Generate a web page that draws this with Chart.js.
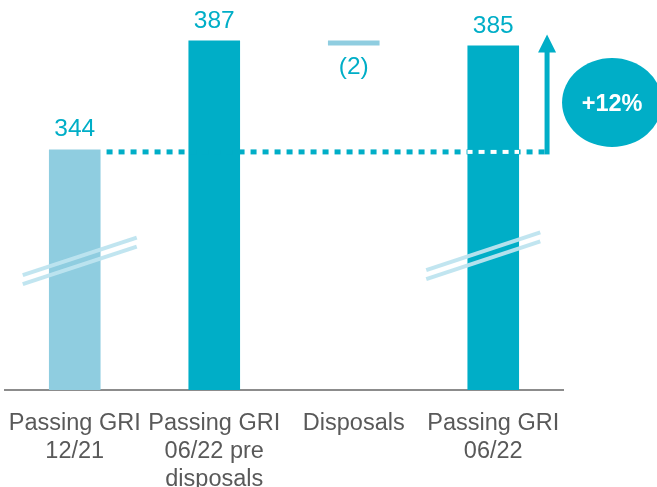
<!DOCTYPE html>
<html>
<head>
<meta charset="utf-8">
<script src="https://cdn.jsdelivr.net/npm/chart.js@4.4.0/dist/chart.umd.min.js"></script>
<style>
html,body{margin:0;padding:0;background:#fff;}
#wrap{width:657px;height:487px;position:relative;}
</style>
</head>
<body>
<div id="wrap"><canvas id="c" width="657" height="487"></canvas></div>
<script>
// ---- data ----
const categories = [["Passing GRI","12/21"],["Passing GRI","06/22 pre","disposals"],["Disposals"],["Passing GRI","06/22"]];
const values = [344, 387, -2, 385];
const valueLabels = ["344", "387", "(2)", "385"];
const changeLabel = "+12%";
const axisMin = 249;   // broken axis start
const axisMax = 403;

const LIGHT = "#8FCDE0";
const DARK = "#00AEC7";
const barColors = [LIGHT, DARK, LIGHT, DARK];

// waterfall data: disposals floats from previous total
const barData = values.map((v, i) => i === 2 ? [values[1] + v, values[1]] : v);

const overlay = {
  id: "overlay",
  afterDatasetsDraw(chart) {
    const ctx = chart.ctx;
    const meta = chart.getDatasetMeta(0);
    const y = chart.scales.y;
    const bars = meta.data;
    ctx.save();

    // break marks
    function breakMark(bar, dx, dy) {
      const cx = bar.x + dx, cy = dy;
      ctx.strokeStyle = "rgba(190,228,239,0.95)";
      ctx.lineWidth = 4;
      ctx.lineCap = "butt";
      const hw = 57, slope = 0.33;
      [-4.5, 4.5].forEach(off => {
        ctx.beginPath();
        ctx.moveTo(cx - hw, cy + off + hw * slope);
        ctx.lineTo(cx + hw, cy + off - hw * slope);
        ctx.stroke();
      });
    }
    const yb1 = y.getPixelForValue(300);
    const yb4 = y.getPixelForValue(302);
    breakMark(bars[0], 5, yb1);
    breakMark(bars[3], -10, yb4);

    // dotted reference line at the first value
    const refY = y.getPixelForValue(values[0]) + 2.5;
    const x0 = bars[0].x + bars[0].width / 2 + 6;
    const arrowX = bars[3].x + bars[3].width / 2 + 28;
    ctx.strokeStyle = DARK;
    ctx.lineWidth = 5;
    ctx.setLineDash([6, 6]);
    ctx.beginPath();
    ctx.moveTo(x0, refY);
    ctx.lineTo(arrowX - 2, refY);
    ctx.stroke();
    // white dots where line crosses last bar
    ctx.save();
    ctx.beginPath();
    ctx.rect(bars[3].x - bars[3].width / 2, 0, bars[3].width, chart.height);
    ctx.clip();
    ctx.strokeStyle = "#ffffff";
    ctx.lineWidth = 4;
    ctx.beginPath();
    ctx.moveTo(x0, refY);
    ctx.lineTo(arrowX - 2, refY);
    ctx.stroke();
    ctx.restore();
    ctx.setLineDash([]);

    // arrow
    const arrowTop = y.getPixelForValue(values[3]) - 11;
    ctx.strokeStyle = DARK;
    ctx.fillStyle = DARK;
    ctx.lineWidth = 5;
    ctx.beginPath();
    ctx.moveTo(arrowX, refY + 2.5);
    ctx.lineTo(arrowX, arrowTop + 14);
    ctx.stroke();
    ctx.beginPath();
    ctx.moveTo(arrowX - 9, arrowTop + 18);
    ctx.lineTo(arrowX + 9, arrowTop + 18);
    ctx.lineTo(arrowX, arrowTop);
    ctx.closePath();
    ctx.fill();

    // ellipse with change label
    const ex = arrowX + 65, ey = 102.5;
    ctx.beginPath();
    ctx.ellipse(ex, ey, 50, 44.5, 0, 0, Math.PI * 2);
    ctx.fill();
    ctx.fillStyle = "#ffffff";
    ctx.font = "bold 23.5px 'Liberation Sans', Arial, sans-serif";
    ctx.textAlign = "center";
    ctx.textBaseline = "middle";
    ctx.fillText(changeLabel, ex, ey + 2);

    // value labels
    ctx.fillStyle = DARK;
    ctx.font = "24.5px 'Liberation Sans', Arial, sans-serif";
    ctx.textAlign = "center";
    bars.forEach((b, i) => {
      if (values[i] < 0) {
        ctx.textBaseline = "top";
        ctx.fillText(valueLabels[i], b.x, Math.max(b.y, b.base) + 9);
      } else {
        ctx.textBaseline = "alphabetic";
        ctx.fillText(valueLabels[i], b.x, Math.min(b.y, b.base) - 13);
      }
    });
    ctx.restore();
  }
};

new Chart(document.getElementById("c"), {
  type: "bar",
  data: {
    labels: categories,
    datasets: [{
      data: barData,
      backgroundColor: barColors,
      borderWidth: 0,
      barPercentage: 0.37,
      categoryPercentage: 1.0
    }]
  },
  options: {
    responsive: false,
    animation: false,
    layout: { padding: { left: 5, right: 94, top: 0, bottom: 0 } },
    plugins: { legend: { display: false }, tooltip: { enabled: false } },
    scales: {
      x: {
        grid: { display: false },
        border: { display: true, color: "#8C8C8C", width: 2 },
        ticks: {
          color: "#595959",
          font: { family: "'Liberation Sans', Arial, sans-serif", size: 23.5, lineHeight: 1.2 },
          padding: 11,
          maxRotation: 0,
          autoSkip: false
        },
        afterFit(scale) { scale.height = 97; scale.paddingLeft = 0; scale.paddingRight = 0; }
      },
      y: {
        display: false,
        min: axisMin,
        max: axisMax
      }
    }
  },
  plugins: [overlay]
});
</script>
</body>
</html>
